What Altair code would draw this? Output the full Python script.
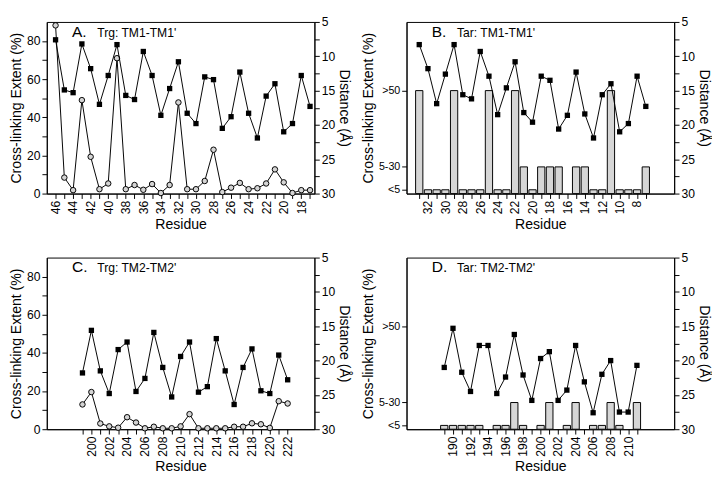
import altair as alt
import pandas as pd

# ---------------- data ----------------
# Panel A: Trg TM1-TM1'
resA = list(range(46, 16, -1))
distA = [7.6, 14.9, 15.3, 8.2, 11.8, 17.0, 12.8, 8.3, 15.7, 16.3, 9.3, 12.8, 18.6, 14.7, 10.8,
         18.3, 19.8, 13.0, 13.4, 20.5, 18.8, 12.3, 18.3, 21.9, 15.8, 14.0, 21.0, 19.8, 12.8, 17.3]
xlA = [88.2, 8.4, 1.8, 49.0, 19.3, 2.3, 5.3, 71.0, 2.3, 4.5, 2.0, 5.0, 0.3, 4.5, 47.8,
       2.3, 2.3, 6.6, 23.0, 0.8, 3.1, 5.6, 2.3, 2.8, 5.3, 12.7, 5.9, 0.3, 1.8, 1.8]

# Panel B: Tar TM1-TM1'
resB = list(range(33, 6, -1))
distB = [8.3, 11.8, 16.9, 12.6, 8.3, 15.6, 16.2, 9.3, 12.9, 18.5, 14.6, 10.8, 18.2, 19.6,
         12.9, 13.5, 20.6, 18.6, 12.3, 18.4, 21.9, 15.6, 14.0, 21.0, 19.8, 12.9, 17.3]
catB = ['>50', '<5', '<5', '<5', '>50', '<5', '<5', '<5', '>50', '<5', '<5', '>50', '5-30', '<5',
        '5-30', '5-30', '5-30', '', '5-30', '5-30', '<5', '<5', '>50', '<5', '<5', '<5', '5-30']

# Panel C: Trg TM2-TM2'
resC = list(range(199, 223))
distC = [21.8, 15.6, 21.5, 24.8, 18.4, 17.3, 24.5, 22.6, 15.9, 21.0, 25.3, 19.4, 17.3, 24.6,
         23.8, 16.8, 21.5, 26.4, 21.0, 18.3, 24.4, 24.8, 19.2, 22.8]
xlC = [13.0, 19.5, 3.0, 1.5, 0.8, 6.3, 3.5, 0.5, 1.3, 0.5, 0.5, 1.5, 7.9, 0.5,
       0.5, 0.5, 0.5, 1.3, 1.3, 3.1, 2.6, 0.7, 14.7, 13.5]

# Panel D: Tar TM2-TM2'
resD = list(range(189, 212))
distD = [21.0, 15.3, 21.7, 24.5, 17.8, 17.8, 24.8, 22.4, 16.2, 22.1, 25.8, 19.7, 18.7, 25.8,
         24.3, 17.8, 23.1, 27.6, 22.0, 20.0, 27.5, 27.5, 20.7]
catD = ['<5', '<5', '<5', '<5', '<5', '', '<5', '<5', '5-30', '<5', '', '<5', '5-30', '',
        '<5', '5-30', '', '<5', '<5', '5-30', '<5', '', '5-30']

cat_levels = ['<5', '5-30', '>50']
cat_values = [2, 14, 54]

FONT = "Liberation Sans"
W, H = 276, 177
cat_map = dict(zip(cat_levels, cat_values))


def x_enc(dom, rev, vals):
    return alt.X('res:Q',
                 scale=alt.Scale(domain=dom, reverse=rev, nice=False, zero=False),
                 axis=alt.Axis(values=vals, title='Residue',
                               labelExpr="datum.value % 2 == 0 ? datum.label : ''",
                               labelAngle=270, tickSize=5, labelPadding=2, titlePadding=4))


def right_axis():
    return alt.Y('dist:Q',
                 scale=alt.Scale(domain=[5, 30], reverse=True, nice=False, zero=False),
                 axis=alt.Axis(orient='right', title='Distance (Å)',
                               values=[5 + 2.5 * i for i in range(11)],
                               labelExpr="datum.value % 5 == 0 ? datum.label : ''",
                               tickSize=5, labelPadding=2, titlePadding=2))


def labels(letter, text):
    d = pd.DataFrame({'t': [letter]})
    d2 = pd.DataFrame({'t': [text]})
    a = alt.Chart(d).mark_text(align='left', baseline='alphabetic', fontSize=16,
                               font=FONT, color='black').encode(
        text='t:N', x=alt.value(26), y=alt.value(15))
    b = alt.Chart(d2).mark_text(align='left', baseline='alphabetic', fontSize=12.5,
                                font=FONT, color='black').encode(
        text='t:N', x=alt.value(52), y=alt.value(15))
    return a, b


def line_panel(res, xl, dist, dom, rev, letter, text):
    df = pd.DataFrame({'res': res, 'xl': xl, 'dist': dist})
    vals = sorted(res)
    xe = x_enc(dom, rev, vals)
    sq = alt.Chart(df).mark_line(
        color='black', strokeWidth=1,
        point=alt.OverlayMarkDef(shape='square', filled=True, color='black', size=30)
    ).encode(x=xe, y=right_axis())
    ci = alt.Chart(df).mark_line(
        color='black', strokeWidth=1,
        point=alt.OverlayMarkDef(shape='circle', filled=True, fill='#d4d4d4',
                                 stroke='black', strokeWidth=1, size=32)
    ).encode(
        x=xe,
        y=alt.Y('xl:Q', scale=alt.Scale(domain=[0, 90], nice=False),
                axis=alt.Axis(orient='left', title='Cross-linking Extent (%)',
                              values=list(range(0, 90, 10)),
                              labelExpr="datum.value % 20 == 0 ? datum.label : ''",
                              tickSize=5, labelPadding=2, titlePadding=3)))
    a, b = labels(letter, text)
    return alt.layer(ci, sq, a, b).resolve_scale(y='independent').properties(width=W, height=H)


def bar_panel(res, cat, dist, dom, rev, letter, text):
    df = pd.DataFrame({'res': res, 'cat': cat, 'dist': dist})
    df['cv'] = [cat_map.get(c, None) for c in cat]
    bars_df = df[df['cat'] != '']
    vals = sorted(res)
    xe = x_enc(dom, rev, vals)
    bars = alt.Chart(bars_df).mark_bar(size=7.5, fill='#d6d6d6', stroke='black',
                                       strokeWidth=1).encode(
        x=xe,
        y=alt.Y('cv:Q', scale=alt.Scale(domain=[0, 90], nice=False),
                axis=alt.Axis(orient='left', title='Cross-linking Extent (%)',
                              values=cat_values,
                              labelExpr="datum.value == 2 ? '<5' : (datum.value == 14 ? '5-30' : '>50')",
                              tickSize=5, labelPadding=2, titlePadding=3, labelFontSize=11)))
    sq = alt.Chart(df).mark_line(
        color='black', strokeWidth=1,
        point=alt.OverlayMarkDef(shape='square', filled=True, color='black', size=30)
    ).encode(x=xe, y=right_axis())
    a, b = labels(letter, text)
    return alt.layer(bars, sq, a, b).resolve_scale(y='independent').properties(width=W, height=H)


pA = line_panel(resA, xlA, distA, [16.5, 47], True, 'A.', "Trg: TM1-TM1'")
pB = bar_panel(resB, catB, distB, [4.3, 33.9], True, 'B.', "Tar: TM1-TM1'")
pC = line_panel(resC, xlC, distC, [195, 225], False, 'C.', "Trg: TM2-TM2'")
pD = bar_panel(resD, catD, distD, [185.25, 214.7], False, 'D.', "Tar: TM2-TM2'")

chart = alt.vconcat(
    alt.hconcat(pA, pB, spacing=8),
    alt.hconcat(pC, pD, spacing=8),
    spacing=20
).properties(
    padding={"left": 0, "top": 0, "right": 0, "bottom": 0}
).configure(
    font=FONT, background='white'
).configure_axis(
    labelFont=FONT, titleFont=FONT, labelFontSize=12.5, titleFontSize=14.5,
    titleFontWeight='normal', labelColor='black', titleColor='black',
    tickColor='black', domainColor='black', grid=False
).configure_view(
    stroke='black', strokeWidth=1
)

chart.save("out.html", embed_options={"renderer": "svg", "actions": False})
